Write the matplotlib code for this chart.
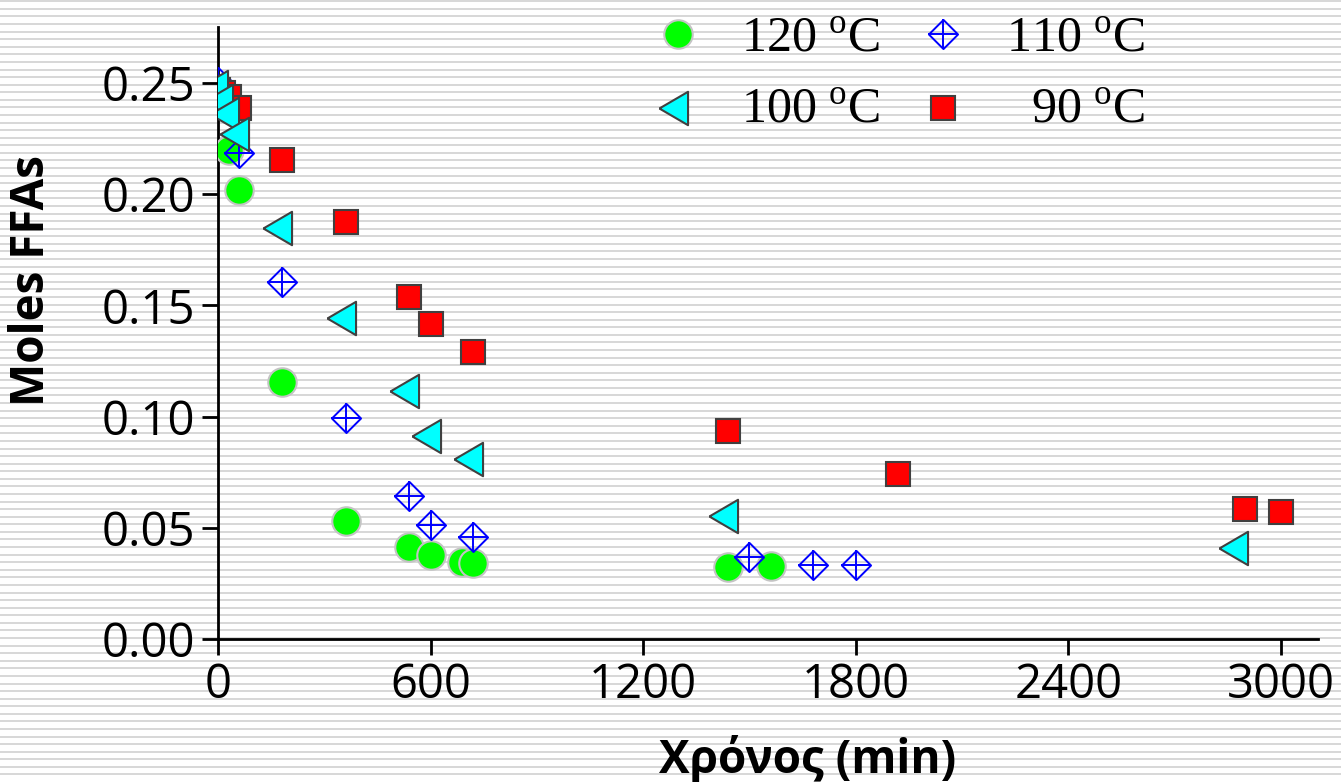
import numpy as np
import matplotlib
matplotlib.use("Agg")
import matplotlib.pyplot as plt

plt.rcParams['mathtext.fontset'] = 'custom'
plt.rcParams['mathtext.rm'] = 'Liberation Serif'

# reaction time (min) and moles of FFAs, one pair of lists per temperature
t_120 = [30, 60, 180, 360, 540, 600, 690, 720, 1440, 1560]
ffa_120 = [0.220, 0.202, 0.1155, 0.053, 0.0415, 0.0378, 0.0346, 0.0342, 0.0324, 0.0328]

t_110 = [0, 60, 180, 360, 540, 600, 720, 1500, 1680, 1800]
ffa_110 = [0.2505, 0.2185, 0.1605, 0.0994, 0.0643, 0.0513, 0.0459, 0.0369, 0.0333, 0.0333]

t_100 = [0, 15, 30, 60, 180, 360, 540, 600, 720, 1440, 2880]
ffa_100 = [0.248, 0.242, 0.236, 0.227, 0.1848, 0.1443, 0.1115, 0.0913, 0.0809, 0.0553, 0.0409]

t_90 = [0, 15, 30, 60, 180, 360, 540, 600, 720, 1440, 1920, 2900, 3000]
ffa_90 = [0.247, 0.2455, 0.2437, 0.239, 0.2154, 0.1875, 0.1538, 0.1416, 0.129, 0.0935, 0.0742, 0.0585, 0.0571]

x_ticks = [0, 600, 1200, 1800, 2400, 3000]
y_ticks = [0.00, 0.05, 0.10, 0.15, 0.20, 0.25]
labels = ['120 $^{\\mathregular{o}}$C', '110 $^{\\mathregular{o}}$C',
          '100 $^{\\mathregular{o}}$C', '90 $^{\\mathregular{o}}$C']

W, H = 1341, 782
fig = plt.figure(figsize=(W / 100, H / 100), dpi=100, facecolor='white')

# striped background
bg = fig.add_axes([0, 0, 1, 1], zorder=-10)
bg.set_xlim(0, 1)
bg.set_ylim(H, 0)
bg.axis('off')
bg.hlines(np.arange(1.3, H, 7.58), 0, 1, color='#d7d7d7', lw=1.4)

ax = fig.add_axes([218 / W, 1 - 639 / H, 1100 / W, 612 / H])
ax.set_facecolor('none')

tri = [(-2, 0), (1, -1.75), (1, 1.75), (-2, 0)]
dia = [(0, 1), (1, 0), (0, -1), (-1, 0), (0, 1)]

ax.plot(t_120, ffa_120, ls='none', marker='o', ms=20.5, mfc='#00ff00',
        mec='#c4c4c4', mew=1.5, zorder=3)
ax.plot(t_110, ffa_110, ls='none', marker=dia, ms=21, mfc='none',
        mec='#0000ff', mew=1.4, zorder=4)
ax.plot(t_110, ffa_110, ls='none', marker='+', ms=21,
        mec='#0000ff', mew=1.4, zorder=4)
ax.plot(t_90, ffa_90, ls='none', marker='s', ms=17, mfc='#ff0000',
        mec='#404040', mew=1.5, zorder=5)
ax.plot(t_100, ffa_100, ls='none', marker=tri, ms=27.5, mfc='#00ffff',
        mec='#404040', mew=1.5, zorder=6)

ax.set_xlim(0, 3105)
ax.set_ylim(0, 0.2752)
ax.set_xticks(x_ticks)
ax.set_yticks(y_ticks)
ax.set_xticklabels([str(v) for v in x_ticks])
ax.set_yticklabels(['%.2f' % v for v in y_ticks])
for s in ['top', 'right']:
    ax.spines[s].set_visible(False)
for s in ['left', 'bottom']:
    ax.spines[s].set_linewidth(2)
ax.tick_params(direction='out', length=11.5, width=2, pad=5, labelsize=34)
for lab in ax.get_xticklabels() + ax.get_yticklabels():
    lab.set_family('Open Sans')

ax.set_xlabel('Χρόνος (min)', family='Open Sans', weight='bold', fontsize=33,
              va='baseline')
ax.xaxis.set_label_coords((808 - 218) / 1100, (639 - 773) / 612)
ax.set_ylabel('Moles FFAs', family='Open Sans', weight='bold', fontsize=33,
              va='center')
ax.yaxis.set_label_coords((32 - 218) / 1100, (639 - 280) / 612)

# legend drawn by hand: markers left, labels right-aligned
leg_marks = [
    dict(marker='o', ms=20.5, mfc='#00ff00', mec='#c4c4c4', mew=1.5),
    dict(marker=dia, ms=21, mfc='none', mec='#0000ff', mew=1.4),
    dict(marker=tri, ms=27.5, mfc='#00ffff', mec='#404040', mew=1.5),
    dict(marker='s', ms=17, mfc='#ff0000', mec='#404040', mew=1.5),
]
mark_xy = [(678, 34), (943, 34), (678, 108), (943, 108)]
text_xy = [(880, 52), (1145, 52), (880, 123), (1145, 123)]
for i in range(4):
    mx, my = mark_xy[i]
    fig.add_artist(plt.Line2D([mx / W], [1 - my / H], ls='none',
                              transform=fig.transFigure, **leg_marks[i]))
    if i == 1:
        fig.add_artist(plt.Line2D([mx / W], [1 - my / H], ls='none', marker='+',
                                  ms=21, mec='#0000ff', mew=1.4,
                                  transform=fig.transFigure))
    tx, ty = text_xy[i]
    fig.text(tx / W, 1 - ty / H, labels[i], family='Liberation Serif',
             fontsize=36, ha='right', va='baseline')

fig.savefig('out.png', dpi=100, facecolor='white')
